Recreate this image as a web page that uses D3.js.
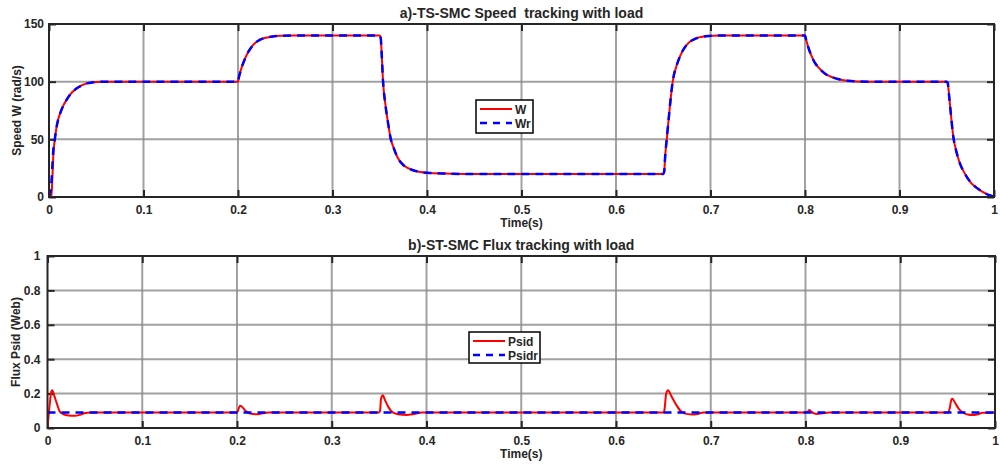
<!DOCTYPE html>
<html><head><meta charset="utf-8">
<script src="https://cdn.jsdelivr.net/npm/d3@7"></script>
<style>body{margin:0;background:#fff}svg{display:block}text{font-family:"Liberation Sans",Arial,sans-serif;font-weight:bold;fill:#262626}</style>
</head><body><svg id="c" width="1000" height="468"></svg>
<script>
const speedTime=[0,0.0025,0.0035,0.0045,0.006,0.0075,0.0095,0.012,0.015,0.0184,0.023,0.029,0.034,0.04,0.047,0.055,0.07,
0.2,0.201,0.203,0.205,0.208,0.211,0.214,0.218,0.223,0.228,0.235,0.245,0.26,
0.35,0.351,0.352,0.3535,0.356,0.359,0.3615,0.365,0.369,0.374,0.38,0.388,0.4,0.42,0.44,
0.65,0.651,0.652,0.6538,0.656,0.66,0.665,0.6707,0.676,0.682,0.688,0.695,0.71,
0.8,0.801,0.803,0.806,0.81,0.816,0.822,0.83,0.837,0.845,0.855,0.87,
0.95,0.951,0.9525,0.954,0.957,0.96,0.964,0.968,0.971,0.975,0.98,0.985,0.99,0.995,1.0];
const speedW=[0,0,15,35,49,58,66.6,73,79,84,89.5,94,96.5,98.5,99.4,99.9,100,
100,104,110,115,121,126,129.7,133.5,136.3,137.8,139,139.8,140,
140,138,125,100,80,63,51,42,34,28.5,25,22.5,21,20.3,20,
20,22,35,51,70,100,116,127,133,136.5,138.4,139.4,140,
140,137,131,124,117,110.8,106.5,103.5,101.8,100.7,100.2,100,
100,99,88,75,52,40,29,22,17.7,13,9,6,3.5,1.5,0.5];
const speedWr=[0,12,26,40,49,58,66.6,73,79,84,89.5,94,96.5,98.5,99.4,99.9,100,
100,104,110,115,121,126,129.7,133.5,136.3,137.8,139,139.8,140,
140,138,125,100,80,63,51,42,34,28.5,25,22.5,21,20.3,20,
20,22,35,51,70,100,116,127,133,136.5,138.4,139.4,140,
140,137,131,124,117,110.8,106.5,103.5,101.8,100.7,100.2,100,
100,99,88,75,52,40,29,22,17.7,13,9,6,3.5,1.5,0.5];
const fluxTime=[0,0.002,0.004,0.005,0.007,0.01,0.013,0.017,0.022,0.029,0.035,0.04,0.045,
0.2,0.201,0.203,0.205,0.209,0.213,0.22,0.227,0.233,
0.35,0.351,0.352,0.354,0.356,0.36,0.364,0.37,0.379,0.387,0.395,
0.65,0.651,0.653,0.655,0.658,0.663,0.668,0.672,0.68,0.686,0.692,
0.8,0.803,0.804,0.806,0.809,0.812,0.818,0.825,
0.95,0.952,0.954,0.955,0.958,0.962,0.966,0.971,0.976,0.982,0.987,0.993,1.0];
const fluxPsid=[0,0.12,0.21,0.22,0.19,0.14,0.095,0.08,0.073,0.071,0.078,0.087,0.09,
0.09,0.1,0.13,0.125,0.1,0.085,0.08,0.085,0.09,
0.09,0.1,0.17,0.19,0.165,0.12,0.092,0.08,0.076,0.082,0.09,
0.09,0.1,0.2,0.22,0.19,0.14,0.1,0.085,0.079,0.082,0.09,
0.09,0.098,0.105,0.095,0.085,0.082,0.086,0.09,
0.09,0.11,0.165,0.17,0.145,0.11,0.09,0.078,0.075,0.08,0.088,0.088,0.09];
const fluxRefTime=[0,1];
const fluxRef=[0.09,0.09];
const xTicks=[0,0.1,0.2,0.3,0.4,0.5,0.6,0.7,0.8,0.9,1];
const speedTicks=[0,50,100,150];
const fluxTicks=[0,0.2,0.4,0.6,0.8,1];

const svg=d3.select("#c");
function panel(o){
  const x=d3.scaleLinear().domain([0,1]).range([o.x0,o.x1]);
  const y=d3.scaleLinear().domain(o.yd).range([o.y1,o.y0]);
  const g=svg.append("g");
  g.selectAll(".gx").data(xTicks.slice(1,-1)).join("line").attr("x1",d=>x(d)).attr("x2",d=>x(d)).attr("y1",o.y0).attr("y2",o.y1).attr("stroke","#8a8a8a").attr("stroke-width",2).attr("stroke-opacity",0.8);
  g.selectAll(".gy").data(o.ticks.slice(1,-1)).join("line").attr("y1",d=>y(d)).attr("y2",d=>y(d)).attr("x1",o.x0).attr("x2",o.x1).attr("stroke","#8a8a8a").attr("stroke-width",2).attr("stroke-opacity",0.8);
  const tl=7;
  const ax=d3.axisBottom(x).tickValues(xTicks).tickSize(-tl).tickPadding(8).tickFormat(d=>d3.format("")(d));
  const gxB=g.append("g").attr("transform",`translate(0,${o.y1})`).call(ax);
  const gxT=g.append("g").attr("transform",`translate(0,${o.y0})`).call(d3.axisTop(x).tickValues(xTicks).tickSize(-tl).tickFormat(""));
  const ay=d3.axisLeft(y).tickValues(o.ticks).tickSize(-tl).tickPadding(o.ypad).tickFormat(d=>d3.format("")(d));
  const gyL=g.append("g").attr("transform",`translate(${o.x0},0)`).call(ay);
  const gyR=g.append("g").attr("transform",`translate(${o.x1},0)`).call(d3.axisRight(y).tickValues(o.ticks).tickSize(-tl).tickFormat(""));
  [gxB,gxT,gyL,gyR].forEach(a=>{a.select(".domain").remove();a.selectAll(".tick line").attr("stroke","#262626").attr("stroke-width",2);a.selectAll("text").attr("font-size",12).attr("font-weight","bold").attr("fill","#262626").attr("font-family","Liberation Sans, Arial, sans-serif");});
  const line=(tx,vy)=>d3.line().x((d,i)=>x(tx[i])).y(d=>y(d)).curve(d3.curveMonotoneX)(vy);
  const clipId="clip"+o.id;
  svg.append("clipPath").attr("id",clipId).append("rect").attr("x",o.x0).attr("y",o.y0-2).attr("width",o.x1-o.x0).attr("height",o.y1-o.y0+2);
  o.series.forEach(s=>{
    g.append("path").attr("d",line(s.t,s.v)).attr("fill","none").attr("stroke",s.c).attr("stroke-width",s.w).attr("stroke-dasharray",s.dash||null).attr("clip-path",`url(#${clipId})`);
  });
  g.append("rect").attr("x",o.x0).attr("y",o.y0).attr("width",o.x1-o.x0).attr("height",o.y1-o.y0).attr("fill","none").attr("stroke","#262626").attr("stroke-width",2);
  g.append("text").attr("x",(o.x0+o.x1)/2).attr("y",o.y0-6).attr("text-anchor","middle").attr("font-size",14).text(o.title);
  g.append("text").attr("x",(o.x0+o.x1)/2).attr("y",o.y1+30).attr("text-anchor","middle").attr("font-size",12).text("Time(s)");
  g.append("text").attr("transform",`translate(${o.ylx},${(o.y0+o.y1)/2}) rotate(-90)`).attr("text-anchor","middle").attr("font-size",12).text(o.ylabel);
  const L=o.leg;
  g.append("rect").attr("x",L.x).attr("y",L.y).attr("width",L.w).attr("height",L.h).attr("fill","#fff").attr("stroke","#000").attr("stroke-width",1.5);
  o.series.forEach((s,i)=>{
    const yy=L.y+9+i*14;
    g.append("line").attr("x1",L.x+4).attr("x2",L.x+36).attr("y1",yy).attr("y2",yy).attr("stroke",s.c).attr("stroke-width",s.w).attr("stroke-dasharray",s.dash?"7,6":null);
    g.append("text").attr("x",L.x+39).attr("y",yy+4.5).attr("font-size",12).text(s.name);
  });
}
panel({id:"a",x0:49,x1:994,y0:24,y1:197,yd:[0,150],ticks:speedTicks,ylx:21,ypad:5,
  title:"a)-TS-SMC Speed\u00a0 tracking with load",ylabel:"Speed W (rad/s)",
  leg:{x:476,y:100,w:57,h:33},
  series:[{name:"W",t:speedTime,v:speedW,c:"#ff0000",w:2},{name:"Wr",t:speedTime,v:speedWr,c:"#0000ff",w:2.5,dash:"8,6"}]});
panel({id:"b",x0:47.5,x1:995,y0:256,y1:428,yd:[0,1],ticks:fluxTicks,ylx:20,ypad:7,
  title:"b)-ST-SMC Flux tracking with load",ylabel:"Flux Psid (Web)",
  leg:{x:469,y:332,w:71,h:31},
  series:[{name:"Psid",t:fluxTime,v:fluxPsid,c:"#ff0000",w:2},{name:"Psidr",t:fluxRefTime,v:fluxRef,c:"#0000ff",w:2.5,dash:"8,6"}]});
</script></body></html>
